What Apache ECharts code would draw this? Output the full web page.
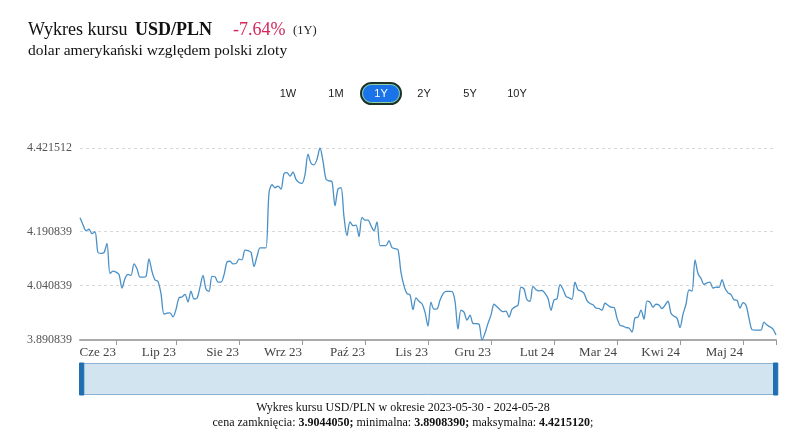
<!DOCTYPE html>
<html><head><meta charset="utf-8">
<script src="https://cdn.jsdelivr.net/npm/echarts@6/dist/echarts.min.js"></script>
<style>html,body{margin:0;padding:0;background:#fff}#c{width:789px;height:443px}</style>
</head><body><div id="c"></div>
<script>
// USD/PLN rate, 2023-05-30 .. 2024-05-28
const ratesPart1 = [4.2285,4.2093,4.1928,4.1969,4.1846,4.1901,4.1324,4.1305,4.1324,4.1580,
  4.0748,4.0811,4.0783,4.0720,4.0344,4.0611,4.0720,4.0693,4.1014,4.0877,
  4.0646,4.0646,4.0665,4.1151,4.0803,4.0569,4.0528,4.0190,3.9622,3.9650,
  3.9658,3.9548,3.9751,4.0075,4.0097,4.0171,3.9960,4.0262,4.0042,4.0061,
  4.0372,4.0693,4.0309,4.0254,4.0665,4.0657,4.0509];
const ratesPart2 = [4.0509,4.0707,4.1063,4.1085,4.1014,4.1022,4.1146,4.1124,4.1393,4.1379,
  4.1333,4.0940,4.1215,4.1453,4.1453,4.1453,4.2971,4.3199,4.3117,4.3164,
  4.3081,4.3507,4.3534,4.3438,4.3548,4.3348,4.3260,4.3235,4.3479,4.4042,
  4.3795,4.3748,4.3905,4.421512,4.3850,4.3356,4.3309,4.3287,4.2615,4.3081,
  4.3117,4.2313,4.1791,4.2175,4.2071,4.2082,4.1764];
const ratesPart3 = [4.2299,4.2222,4.2222,4.2066,4.1928,4.2175,4.1516,4.1516,4.1516,4.1654,
  4.1462,4.1434,4.1407,4.0775,4.0405,4.0190,4.0158,3.9746,4.0075,3.9979,
  3.9910,3.9677,3.9293,3.9952,3.9759,3.9765,4.0007,4.0185,4.0254,4.0254,
  4.0248,3.9979,3.9210,3.9732,3.9677,3.9458,3.9595,3.9367,3.9359,3.9348,
  3.890839,3.9101,3.9367,3.9595,3.9897,3.9828,3.9746];
const ratesPart4 = [3.9691,3.9705,3.9540,3.9759,3.9823,3.9869,4.0372,4.0322,4.0020,3.9979,
  4.0391,4.0300,4.0265,4.0276,4.0199,4.0061,3.9732,4.0015,4.0048,4.0438,
  4.0309,4.0116,4.0075,4.0034,4.0509,4.0295,4.0262,4.0199,3.9996,3.9919,
  3.9883,3.9792,3.9779,3.9732,3.9924,3.9869,3.9814,3.9806,3.9512,3.9312,
  3.9293,3.9252,3.9238,3.9128,3.9521,3.9540,3.9732];
const ratesPart5 = [3.9485,3.9985,3.9952,3.9814,3.9897,3.9875,3.9779,3.9869,3.9979,3.9650,
  3.9567,3.9512,3.9252,3.9622,3.9897,4.0292,4.0262,4.1124,4.0748,4.0611,
  4.0446,4.0487,4.0509,4.0341,4.0372,4.0363,4.0575,4.0336,4.0212,4.0163,
  4.0020,4.0007,3.9787,3.9943,3.9869,3.9512,3.9194,3.9183,3.9183,3.9183,
  3.9403,3.9320,3.9274,3.9210,3.904405];

const rates = [].concat(ratesPart1, ratesPart2, ratesPart3, ratesPart4, ratesPart5);
const categories = rates.map((_, i) => String(i));

// month tick labels and the data index they sit on
const monthLabels = ['Cze 23','Lip 23','Sie 23','Wrz 23','Paź 23','Lis 23','Gru 23','Lut 24','Mar 24','Kwi 24','Maj 24'];
const monthTickIndex = [12, 32, 53, 74, 95, 116, 137, 158, 179, 200, 221];

// y axis tick labels
const yTicks = [3.890839, 4.040839, 4.190839, 4.421512];

const rangeButtons = ['1W','1M','1Y','2Y','5Y','10Y'];
const rangeButtonX = [288, 336, 381, 424, 470, 517];
const activeRange = '1Y';

const serif = '"Liberation Serif", "DejaVu Serif", serif';
const sans = '"Liberation Sans", Arial, sans-serif';

const lastIdx = rates.length - 1;
const tickSet = new Set(monthTickIndex.concat([lastIdx]));
const labelMap = {};
monthTickIndex.forEach((ix, k) => { labelMap[ix] = monthLabels[k]; });

const graphics = [
  { type: 'text', style: { x: 28, y: 30, text: 'Wykres kursu', font: '18px ' + serif, fill: '#111', textVerticalAlign: 'middle' } },
  { type: 'text', style: { x: 135, y: 30, text: 'USD/PLN', font: 'bold 18px ' + serif, fill: '#111', textVerticalAlign: 'middle' } },
  { type: 'text', style: { x: 233, y: 30, text: '-7.64%', font: '18px ' + serif, fill: '#d4285a', textVerticalAlign: 'middle' } },
  { type: 'text', style: { x: 293, y: 31, text: '(1Y)', font: '12.5px ' + serif, fill: '#222', textVerticalAlign: 'middle' } },
  { type: 'text', style: { x: 28, y: 51, text: 'dolar amerykański względem polski zloty', font: '15.5px ' + serif, fill: '#111', textVerticalAlign: 'middle' } },
  { type: 'text', style: { x: 403, y: 408, text: 'Wykres kursu USD/PLN w okresie 2023-05-30 - 2024-05-28', font: '12px ' + serif, fill: '#111', textAlign: 'center', textVerticalAlign: 'middle' } },
  { type: 'text', style: { x: 403, y: 423,
      text: '{n|cena zamknięcia: }{b|3.9044050;}{n| minimalna: }{b|3.8908390;}{n| maksymalna: }{b|4.4215120}{n|;}',
      textAlign: 'center', textVerticalAlign: 'middle',
      rich: { n: { font: '12px ' + serif, fill: '#111' }, b: { font: 'bold 12px ' + serif, fill: '#111' } } } }
];
rangeButtons.forEach((label, k) => {
  const active = label === activeRange;
  if (active) {
    graphics.push({ type: 'rect', shape: { x: rangeButtonX[k] - 20, y: 83, width: 40, height: 21, r: 10.5 },
      style: { fill: '#1a73e8', stroke: '#1d3326', lineWidth: 2 } });
    graphics.push({ type: 'rect', shape: { x: rangeButtonX[k] - 18.5, y: 84.5, width: 37, height: 18, r: 9 },
      style: { fill: 'none', stroke: '#8fd19e', lineWidth: 1 } });
  }
  graphics.push({ type: 'text', style: { x: rangeButtonX[k], y: 94, text: label, font: '11px ' + sans,
    fill: active ? '#fff' : '#222', textAlign: 'center', textVerticalAlign: 'middle' } });
});

const chart = echarts.init(document.getElementById('c'), null, { renderer: 'canvas' });
chart.setOption({
  animation: false,
  backgroundColor: '#fff',
  grid: { left: 80, right: 13, top: 148, bottom: 103, containLabel: false },
  xAxis: {
    type: 'category', data: categories, boundaryGap: false,
    axisLine: { show: true, lineStyle: { color: '#aaa', width: 2 } },
    axisTick: { show: true, length: 5, interval: (i) => tickSet.has(i), lineStyle: { color: '#999', width: 1 } },
    axisLabel: { show: true, interval: (i) => labelMap[i] !== undefined, formatter: (v, i) => labelMap[i] || '',
      align: 'right', margin: 6, color: '#444', fontSize: 13, fontFamily: serif },
    splitLine: { show: false }
  },
  yAxis: {
    type: 'value', min: yTicks[0], max: yTicks[yTicks.length - 1], scale: true,
    axisLine: { show: false },
    axisTick: { show: false, customValues: yTicks },
    axisLabel: { customValues: yTicks, formatter: (v) => v.toFixed(6), color: '#555', fontSize: 12, fontFamily: serif, margin: 8 },
    splitLine: { show: true, lineStyle: { color: '#d8d8d8', type: [3, 3], width: 1 } }
  },
  dataZoom: [{
    type: 'slider', xAxisIndex: 0, start: 0, end: 100,
    left: 80, right: 13, top: 363, height: 32,
    backgroundColor: 'rgba(0,0,0,0)', borderColor: '#8db3d3',
    fillerColor: '#d1e4ef',
    showDataShadow: false, showDetail: false, brushSelect: false, moveHandleSize: 0,
    handleIcon: 'path://M0,0 L4,0 L4,30 L0,30 Z', handleSize: '100%',
    handleStyle: { color: '#1f6fb2', borderColor: '#1f6fb2' },
    emphasis: { handleStyle: { color: '#1f6fb2', borderColor: '#1f6fb2' } },
    zoomLock: true
  }],
  series: [{
    type: 'line', data: rates, showSymbol: false, symbol: 'none', smooth: 0.3,
    lineStyle: { color: '#4a90c6', width: 1.3 },
    itemStyle: { color: '#4a90c6' }
  }],
  graphic: graphics
});
</script></body></html>
